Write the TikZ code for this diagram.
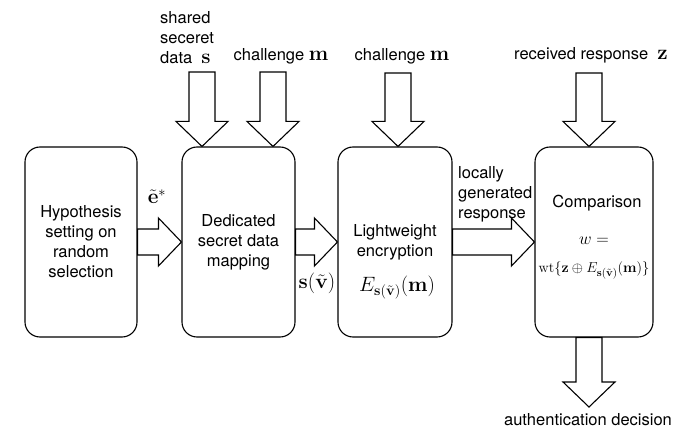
\documentclass[tikz,border=0pt]{standalone}
\usepackage{amsmath}
\usepackage[no-math]{fontspec}
\setmainfont{TeX Gyre Heros}
\usetikzlibrary{calc}

% math symbols are set larger than the sans text
\newcommand{\bigmath}[1]{{\fontsize{21}{20}\selectfont$#1$}}

% hollow block arrows: shaft 26pt wide, head 48pt wide
\newcommand{\fatright}[2]{%
  \draw[fatarrow] let \p1=(#1), \p2=(#2) in
    (\x1,\y1+13pt) -- (\x2-23pt,\y1+13pt) -- (\x2-23pt,\y1+24pt) -- (\x2,\y1)
    -- (\x2-23pt,\y1-24pt) -- (\x2-23pt,\y1-13pt) -- (\x1,\y1-13pt) -- cycle;}
\newcommand{\fatdown}[2]{%
  \draw[fatarrow] let \p1=(#1), \p2=(#2) in
    (\x2-13pt,\y1) -- (\x2-13pt,\y2+25pt) -- (\x2-26pt,\y2+25pt) -- (\x2,\y2)
    -- (\x2+26pt,\y2+25pt) -- (\x2+13pt,\y2+25pt) -- (\x2+13pt,\y1) -- cycle;}

\tikzset{
  box/.style={draw, line width=1.1pt, rounded corners=15pt, minimum width=113pt,
    minimum height=190pt, align=center, inner sep=0pt},
  fatarrow/.style={line width=1.1pt, line join=miter},
  lbl/.style={inner sep=0pt, align=left},
}

\begin{document}
\begin{tikzpicture}[x=1pt,y=-1pt,font=\fontsize{16.5}{20}\selectfont]
  \useasboundingbox (0,0) rectangle (673,430);
  % the four stages
  \node[box, minimum width=112pt] (hyp) at (81,242) {Hypothesis\\setting on\\random\\selection};
  \node[box] (map) at (238.5,242) {Dedicated\\secret data\\mapping};
  \node[box, minimum width=114pt] (enc) at (395,242) {Lightweight\\encryption};
  \node[box, minimum width=118pt] (cmp) at (594,242) {};
  \node[inner sep=0pt, anchor=base] (encE) at (397,292) {\fontsize{22}{20}\selectfont$E_{\mathbf{s}(\tilde{\mathbf{v}})}(\mathbf{m})$};
  \node[inner sep=0pt, anchor=base] (cmpT) at (597,208) {Comparison};
  \node[inner sep=0pt, anchor=base] (cmpW) at (594,245) {$w=$};
  \node[inner sep=0pt, anchor=base] (cmpF) at (594,273) {\fontsize{15}{15}\selectfont$\mathrm{wt}\{\mathbf{z}\oplus E_{\mathbf{s}(\tilde{\mathbf{v}})}(\mathbf{m})\}$};

  % flow between the stages
  \fatright{hyp.east}{map.west}
  \fatright{map.east}{enc.west}
  \fatright{enc.east}{cmp.west}
  \node[inner sep=0pt, anchor=base] (eLbl) at (157,204) {\bigmath{\tilde{\mathbf{e}}^*}};
  \node[inner sep=0pt, anchor=base] (sLbl) at (317,289) {\bigmath{\mathbf{s}(\tilde{\mathbf{v}})}};
  \node[lbl, anchor=north west] (respLbl) at (458,166) {locally\\generated\\response};

  % inputs from above
  \coordinate (sIn) at (202,72);
  \coordinate (mIn) at (273,72);
  \coordinate (mIn2) at (398,73);
  \coordinate (zIn) at (589,73);
  \fatdown{sIn}{sIn |- map.north}
  \fatdown{mIn}{mIn |- map.north}
  \fatdown{mIn2}{mIn2 |- enc.north}
  \fatdown{zIn}{zIn |- cmp.north}
  \node[lbl, anchor=north west] (sLblTop) at (160,11) {shared\\seceret\\data \ \bigmath{\mathbf{s}}};
  \node[inner sep=0pt, anchor=base] (mLbl) at (281,61) {challenge \bigmath{\mathbf{m}}};
  \node[inner sep=0pt, anchor=base] (mLbl2) at (402,61) {challenge \bigmath{\mathbf{m}}};
  \node[inner sep=0pt, anchor=base] (zLbl) at (591,60) {received response \ \bigmath{\mathbf{z}}};

  % output
  \coordinate (dec) at (589,407);
  \fatdown{dec |- cmp.south}{dec}
  \node[inner sep=0pt, anchor=base] (decLbl) at (588,426) {authentication decision};
\end{tikzpicture}
\end{document}
